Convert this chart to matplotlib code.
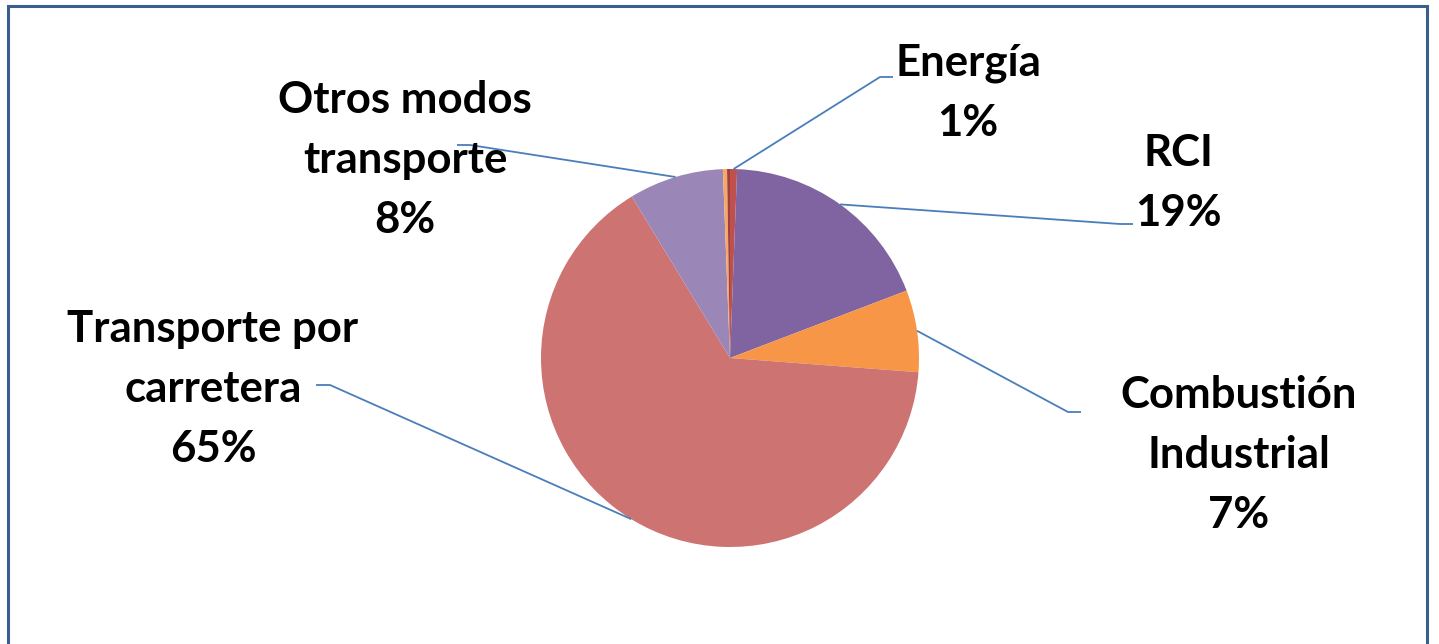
import matplotlib
matplotlib.use("Agg")
import matplotlib.pyplot as plt
from matplotlib.patches import Rectangle
import numpy as np

# slice values (%) clockwise from 12 o'clock
labels = ['Energía', 'RCI', 'Combustión\nIndustrial', 'Transporte por\ncarretera',
          'Otros modos\ntransporte', '', '']
values = [0.6, 18.6, 7.0, 65.1, 8.1, 0.35, 0.25]
shown = ['1%', '19%', '7%', '65%', '8%', '', '']
colors = ['#C0504D', '#8064A2', '#F79646', '#CD7371', '#9B86B8', '#F9A864', '#9E413E']

W, H = 1439, 644
fig = plt.figure(figsize=(W / 100, H / 100), dpi=100)
ax = fig.add_axes([0, 0, 1, 1])
ax.set_xlim(0, W)
ax.set_ylim(0, H)
ax.set_aspect('equal')
ax.axis('off')

cx, cy, r = 730, H - 358, 189
wedges, _ = ax.pie(values, colors=colors, startangle=90, counterclock=False,
                   center=(cx, cy), radius=r, wedgeprops=dict(linewidth=0))
ax.set_xlim(0, W)
ax.set_ylim(0, H)

# label layout: text center (x, y), elbow point, end point (pixel coords, y from top)
layout = {
    0: ((968, 93), (880, 77), (893, 77)),
    1: ((1178, 183), (1120, 224), (1133, 224)),
    2: ((1239, 455), (1068, 412), (1081, 412)),
    3: ((213, 389), (330, 385), (316, 385)),
    4: ((405, 160), (470, 145), (457, 145)),
}

line_col = '#4A7EBB'
for i, (tpos, elbow, end) in layout.items():
    w = wedges[i]
    mid = np.deg2rad((w.theta1 + w.theta2) / 2)
    sx, sy = cx + r * np.cos(mid), cy + r * np.sin(mid)
    ax.plot([sx, elbow[0], end[0]], [sy, H - elbow[1], H - end[1]],
            color=line_col, lw=1.3, solid_capstyle='butt', zorder=1)
    ax.text(tpos[0], H - tpos[1], labels[i] + '\n' + shown[i], ha='center', va='center',
            fontsize=31.5, fontweight='bold', family=['Lato', 'DejaVu Sans'],
            linespacing=1.6, color='black', zorder=3)

fig.patches.append(Rectangle((8 / W, -0.1), (1427 - 8) / W, (H - 6) / H + 0.1,
                             transform=fig.transFigure, fill=False,
                             edgecolor='#3A5F8E', lw=2.2))

fig.savefig('out.png', dpi=100)
